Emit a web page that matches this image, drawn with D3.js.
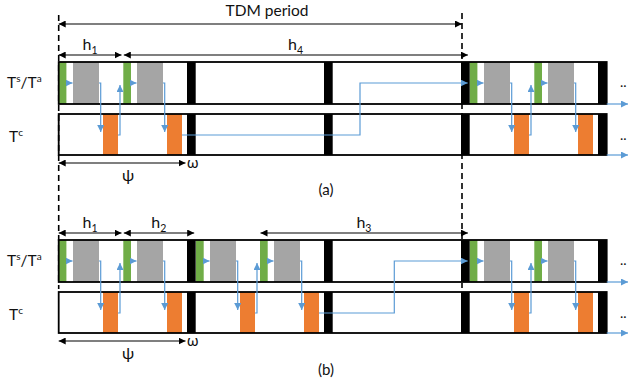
<!DOCTYPE html>
<html>
<head>
<meta charset="utf-8">
<script src="https://cdn.jsdelivr.net/npm/d3@7"></script>
<style>
  body { margin: 0; background: #fff; }
  text { font-family: Lato, "Open Sans", sans-serif; fill: #111; }
</style>
</head>
<body>
<script>
// slot start times (same unit as the time axis), one entry per slot
const syncA = [0, 64.6, 411, 475.6]        // green
const compA = [14.3, 78.3, 425.3, 489.3]   // grey
const ctrlA = [44.3, 108.3, 455.3, 519.3]  // orange
const syncB = [0, 64.6, 137.3, 201.3, 411, 475.6]
const compB = [14.3, 78.3, 151.3, 215.3, 425.3, 489.3]
const ctrlB = [44.3, 108.3, 181.3, 245.3, 455.3, 519.3]
const guard = [128.3, 265.3, 402.3, 539.3]  // black, both rows

const syncW = 7.7, compW = 26, ctrlW = 15, guardW = 8.7
const horizon = 548

// control -> next sync links, [from, to, via]
const linksA = [[0, 1], [1, 2, 301.3], [2, 3]]
const linksB = [[0, 1], [2, 3], [3, 4, 335.6], [4, 5]]

// h spans between sync slots, [sub, from, to]
const spansA = [["1", 0, 1], ["4", 1, 2]]
const spansB = [["1", 0, 1], ["2", 1, 2], ["3", 3, 4]]

const blue = "#5B9BD5"

const svg = d3.select("body").append("svg")
  .attr("width", 629).attr("height", 384)

const x = d3.scaleLinear().domain([0, horizon]).range([58.7, 606.7])

const defs = svg.append("defs")
function marker(id, color) {
  defs.append("marker")
    .attr("id", id)
    .attr("markerUnits", "userSpaceOnUse")
    .attr("markerWidth", 8).attr("markerHeight", 7)
    .attr("refX", 7).attr("refY", 3.5)
    .attr("orient", "auto-start-reverse")
    .append("path").attr("d", "M0,0 L7,3.5 L0,7 Z").attr("fill", color)
}
marker("blk", "#000")
marker("blu", blue)

function dimArrow(g, x1, x2, y) {
  g.append("line")
    .attr("x1", x1).attr("x2", x2).attr("y1", y).attr("y2", y)
    .attr("stroke", "#000").attr("stroke-width", 1.2)
    .attr("marker-start", "url(#blk)").attr("marker-end", "url(#blk)")
}

// TDM period
svg.append("text").attr("x", 267).attr("y", 16)
  .attr("text-anchor", "middle").attr("font-size", 15.5).text("TDM period")
dimArrow(svg, x(0), x(guard[2]) + 1, 24)

// dashed period borders
svg.append("line").attr("x1", x(0)).attr("x2", x(0)).attr("y1", 15).attr("y2", 289)
  .attr("stroke", "#000").attr("stroke-width", 1.6).attr("stroke-dasharray", "6,4")
svg.append("line").attr("x1", x(guard[2]) + 1).attr("x2", x(guard[2]) + 1).attr("y1", 13).attr("y2", 288)
  .attr("stroke", "#000").attr("stroke-width", 1.6).attr("stroke-dasharray", "6,4")

function panel(top, sync, comp, ctrl, links, spans, tag, tagY) {
  const g = svg.append("g")
  const r1 = top, r2 = top + 52, rh = 42

  // labels
  const l1 = g.append("text").attr("x", 7).attr("y", r1 + 26).attr("font-size", 15.5)
  l1.append("tspan").text("T")
  l1.append("tspan").attr("font-size", 10).attr("dy", -6).text("s")
  l1.append("tspan").attr("dy", 6).text("/T")
  l1.append("tspan").attr("font-size", 10).attr("dy", -6).text("a")
  const l2 = g.append("text").attr("x", 9).attr("y", r2 + 28).attr("font-size", 15.5)
  l2.append("tspan").text("T")
  l2.append("tspan").attr("font-size", 10).attr("dy", -6).text("c")

  // slots
  g.selectAll(".sync").data(sync).join("rect")
    .attr("x", d => x(d)).attr("width", x(syncW) - x(0))
    .attr("y", r1).attr("height", rh).attr("fill", "#70AD47")
  g.selectAll(".comp").data(comp).join("rect")
    .attr("x", d => x(d)).attr("width", x(compW) - x(0))
    .attr("y", r1).attr("height", rh).attr("fill", "#A5A5A5")
  g.selectAll(".ctrl").data(ctrl).join("rect")
    .attr("x", d => x(d)).attr("width", x(ctrlW) - x(0))
    .attr("y", r2).attr("height", rh - 1).attr("fill", "#ED7D31")
  ;[r1, r2].forEach(ry => {
    g.selectAll(null).data(guard).join("rect")
      .attr("x", d => x(d)).attr("width", x(guardW) - x(0))
      .attr("y", ry).attr("height", ry === r1 ? rh : rh - 1).attr("fill", "#000")
    g.append("rect").attr("x", x(0)).attr("y", ry)
      .attr("width", x(horizon) - x(0)).attr("height", ry === r1 ? rh : rh - 1)
      .attr("fill", "none").attr("stroke", "#000").attr("stroke-width", 1.8)
  })

  // blue flow arrows
  const flow = (d, end) => g.append("path").attr("d", d)
    .attr("fill", "none").attr("stroke", blue).attr("stroke-width", 1.2)
    .attr("marker-end", end ? "url(#blu)" : null)
  sync.forEach((s, i) => {
    flow(`M${x(s + syncW)},${r1 + 21}H${x(comp[i]) - 0.5}`, true)
    const gx = x(comp[i] + compW) + 1.7
    flow(`M${x(comp[i] + compW)},${r1 + 21}H${gx}V${r2 + 18}`, true)
  })
  links.forEach(([a, b, via]) => {
    const ox = x(ctrl[a] + ctrlW)
    if (via === undefined) {
      flow(`M${ox},${r2 + 21}H${ox + 2}V${r1 + 23}`, true)
    } else {
      flow(`M${ox},${r2 + 21}H${x(via)}V${r1 + 21}H${x(sync[b]) - 2}`, true)
    }
  })
  // continuation
  ;[r1 + rh, r2 + rh - 1].forEach(y => {
    g.append("line").attr("x1", x(horizon)).attr("x2", 628).attr("y1", y).attr("y2", y)
      .attr("stroke", blue).attr("stroke-width", 1.2).attr("marker-end", "url(#blu)")
  })
  g.append("text").attr("x", 620).attr("y", r1 + 25).attr("font-size", 14).text("..")
  g.append("text").attr("x", 620).attr("y", r2 + 26).attr("font-size", 14).text("..")

  // h spans
  spans.forEach(([sub, a, b]) => {
    const x1 = x(sync[a]), x2 = x(sync[b]) - 1.8
    dimArrow(g, a === 0 ? x1 : x1 + 0.5, x2, top - 7)
    const t = g.append("text").attr("x", (x1 + x2) / 2).attr("y", top - 12)
      .attr("text-anchor", "middle").attr("font-size", 16)
    t.append("tspan").text("h")
    t.append("tspan").attr("font-size", 10.5).attr("dy", 4).text(sub)
  })

  // psi / omega
  dimArrow(g, x(0), x(guard[0]) - 1.5, top + 101)
  g.append("text").attr("x", 128).attr("y", top + 119).attr("text-anchor", "middle")
    .attr("font-size", 16).text("ψ")
  g.append("text").attr("x", x(guard[0])).attr("y", top + 106).attr("font-size", 15).text("ω")

  svg.append("text").attr("x", 326).attr("y", tagY).attr("text-anchor", "middle")
    .attr("font-size", 15).text(tag)
}

panel(62, syncA, compA, ctrlA, linksA, spansA, "(a)", 195)
panel(240, syncB, compB, ctrlB, linksB, spansB, "(b)", 375)
</script>
</body>
</html>
